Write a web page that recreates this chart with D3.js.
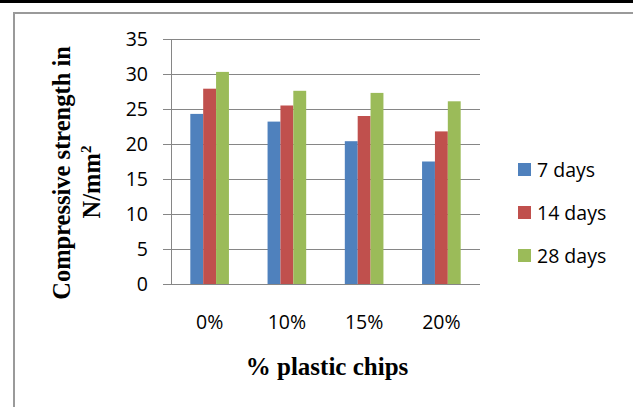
<!DOCTYPE html>
<html>
<head>
<meta charset="utf-8">
<script src="https://cdn.jsdelivr.net/npm/d3@7"></script>
<style>
  html, body { margin: 0; padding: 0; background: #fff; }
  svg { display: block; }
</style>
</head>
<body>
<svg id="chart" width="633" height="407"></svg>
<script>
// Data: compressive strength (N/mm²) by % plastic chips and curing age
const categories = ["0%", "10%", "15%", "20%"];
const seriesNames = ["7 days", "14 days", "28 days"];
const days7 = [24.3, 23.2, 20.4, 17.5];
const days14 = [27.9, 25.5, 24.0, 21.8];
const days28 = [30.3, 27.6, 27.3, 26.1];
const yTicks = [0, 5, 10, 15, 20, 25, 30, 35];
const colors = ["#4F81BD", "#C0504D", "#9BBB59"];

const seriesValues = [days7, days14, days28];

const svg = d3.select("#chart");
const W = 633, H = 407;

svg.append("rect").attr("width", W).attr("height", H).attr("fill", "#fff");

// page rule at the top and the chart frame
svg.append("rect").attr("x", 0).attr("y", 0).attr("width", W).attr("height", 3).attr("fill", "#000");
svg.append("path")
  .attr("d", `M14,${H} L14,13 L${W},13`)
  .attr("fill", "none").attr("stroke", "#9a9a9a").attr("stroke-width", 2);

const plot = { left: 171, right: 480, top: 39, bottom: 284 };

const y = d3.scaleLinear().domain([0, 35]).range([plot.bottom, plot.top]);
const x0 = d3.scaleBand().domain(categories).range([plot.left, plot.right])
  .paddingInner(0.5).paddingOuter(0.25);
const x1 = d3.scaleBand().domain(seriesNames).range([0, x0.bandwidth()]);

const gridColor = "#868686";
const tickFont = "'Open Sans', sans-serif";

// y axis with gridlines
const yAxis = d3.axisLeft(y).tickValues(yTicks).tickSize(8).tickPadding(15);
const gy = svg.append("g").attr("transform", `translate(${plot.left},0)`).call(yAxis);
gy.select(".domain").attr("stroke", gridColor);
gy.selectAll(".tick line").attr("stroke", gridColor);
gy.selectAll(".tick text").attr("font-family", tickFont).attr("font-size", 19.5).attr("fill", "#000");

svg.append("g").selectAll("line").data(yTicks.filter(d => d > 0)).join("line")
  .attr("x1", plot.left).attr("x2", plot.right)
  .attr("y1", d => Math.round(y(d)) + 0.5).attr("y2", d => Math.round(y(d)) + 0.5)
  .attr("stroke", gridColor).attr("stroke-width", 1);

// bars
const groups = svg.append("g").selectAll("g").data(categories).join("g")
  .attr("transform", c => `translate(${x0(c)},0)`);
groups.selectAll("rect")
  .data((c, i) => seriesNames.map((s, k) => ({ s, k, v: seriesValues[k][i] })))
  .join("rect")
  .attr("x", d => x1(d.s))
  .attr("width", x1.bandwidth())
  .attr("y", d => y(d.v))
  .attr("height", d => y(0) - y(d.v))
  .attr("fill", d => colors[d.k]);

// x axis line and category labels
const xAxis = d3.axisBottom(x0).tickSize(0).tickPadding(31);
const gx = svg.append("g").attr("transform", `translate(0,${plot.bottom})`).call(xAxis);
gx.select(".domain").attr("stroke", gridColor).attr("d", `M${plot.left},0.5H${plot.right}`);
gx.selectAll(".tick text").attr("font-family", tickFont).attr("font-size", 19.5).attr("fill", "#000");

// axis titles
const titleFont = "'Liberation Serif', 'Times New Roman', serif";
svg.append("text")
  .attr("x", 327).attr("y", 375)
  .attr("text-anchor", "middle")
  .attr("font-family", titleFont).attr("font-weight", "bold").attr("font-size", 25)
  .text("% plastic chips");

svg.append("text")
  .attr("transform", "translate(70,173) rotate(-90)")
  .attr("text-anchor", "middle")
  .attr("font-family", titleFont).attr("font-weight", "bold").attr("font-size", 24.5)
  .text("Compressive strength in");
const t2 = svg.append("text")
  .attr("transform", "translate(100,182) rotate(-90)")
  .attr("text-anchor", "middle")
  .attr("font-family", titleFont).attr("font-weight", "bold").attr("font-size", 24.5);
t2.append("tspan").text("N/mm");
t2.append("tspan").attr("dy", -9).attr("font-size", 15).text("2");

// legend
const legend = svg.append("g").selectAll("g").data(seriesNames).join("g")
  .attr("transform", (d, i) => `translate(518,${170 + i * 43})`);
legend.append("rect").attr("x", 0).attr("y", -7).attr("width", 13).attr("height", 13)
  .attr("fill", (d, i) => colors[i]);
legend.append("text").attr("x", 19).attr("y", 0).attr("dy", "0.35em")
  .attr("font-family", tickFont).attr("font-size", 19.5).attr("fill", "#000")
  .text(d => d);
</script>
</body>
</html>
